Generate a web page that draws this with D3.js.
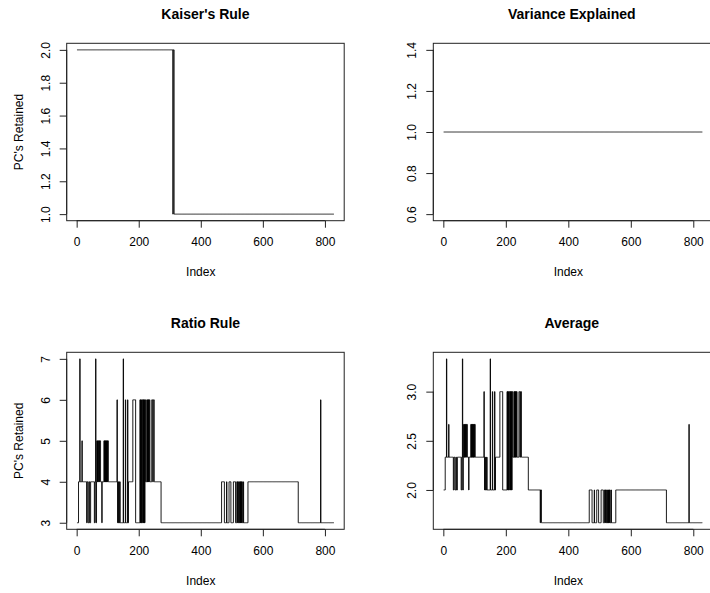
<!DOCTYPE html>
<html>
<head>
<meta charset="utf-8">
<script src="https://cdn.jsdelivr.net/npm/d3@7"></script>
<style>
  html, body { margin: 0; padding: 0; background: #fff; overflow: hidden; }
  svg { display: block; font-family: "Liberation Sans", Arial, Helvetica, sans-serif; }
</style>
</head>
<body>
<svg id="chart" width="710" height="593"></svg>
<script>
// Number of simulated data sets (x index runs 1..N)
const N = 829;

// Each series is stored as runs: [first index, value]; a value holds until the next run starts.
const kaiserRuns = [[1, 2], [310, 1], [311, 2], [314, 1]];
const varianceRuns = [[1, 1]];
const ratioRuns = [
  [1, 3], [6, 4], [10, 7], [11, 4], [17, 5], [18, 4],
  [32, 3], [34, 4], [37, 3], [40, 4], [42, 3], [45, 4],
  [57, 3], [59, 4], [61, 7], [62, 3], [64, 4],
  [65, 5], [66, 4], [67, 5], [68, 4], [69, 5], [71, 4], [72, 5], [73, 4], [74, 5], [77, 4],
  [81, 3], [82, 4],
  [88, 5], [89, 4], [90, 5], [91, 4], [92, 5], [93, 4], [94, 5], [95, 4], [96, 5], [97, 4], [98, 5], [99, 4], [100, 5], [102, 4],
  [130, 6], [131, 4], [132, 3], [133, 4], [134, 3], [136, 4], [137, 3], [139, 4], [140, 3],
  [150, 7], [151, 3], [157, 6], [158, 3], [164, 6], [165, 3], [167, 4], [181, 6], [190, 3],
  [204, 6], [205, 3], [206, 6], [207, 3], [208, 6], [209, 3], [211, 6], [213, 3],
  [214, 6], [215, 3], [216, 6], [217, 3], [218, 6], [219, 3], [220, 6], [222, 4],
  [226, 6], [227, 4], [228, 6], [229, 4], [230, 6], [231, 4], [232, 6], [233, 4], [234, 6], [236, 4],
  [242, 6], [245, 4], [247, 6], [250, 4],
  [272, 3],
  [467, 4], [476, 3], [483, 4], [484, 3], [491, 4], [497, 3], [505, 4], [512, 3],
  [516, 4], [518, 3], [519, 4], [521, 3], [523, 4], [524, 3], [526, 4], [527, 3], [528, 4], [529, 3],
  [530, 4], [531, 3], [532, 4], [534, 3], [537, 4], [538, 3],
  [552, 4], [714, 3], [786, 6], [787, 3]
];

// Axis ticks
const xTicks = [0, 200, 400, 600, 800];
const kaiserTicks = [1.0, 1.2, 1.4, 1.6, 1.8, 2.0];
const varianceTicks = [0.6, 0.8, 1.0, 1.2, 1.4];
const ratioTicks = [3, 4, 5, 6, 7];
const averageTicks = [2.0, 2.5, 3.0];

// Panel text
const titles = ["Kaiser's Rule", "Variance Explained", "Ratio Rule", "Average"];
const xLabel = "Index";
const yLabel = "PC's Retained";

// Expand runs into one value per index 1..n
function expand(runs, n) {
  const out = [];
  let r = 0;
  for (let i = 1; i <= n; i++) {
    while (r + 1 < runs.length && runs[r + 1][0] <= i) r++;
    out.push({ i: i, v: runs[r][1] });
  }
  return out;
}

const kaiser = expand(kaiserRuns, N);
const variance = expand(varianceRuns, N);
const ratio = expand(ratioRuns, N);
// The "Average" panel is the per-index mean of the three retention rules
const average = ratio.map((d, k) => ({ i: d.i, v: (kaiser[k].v + variance[k].v + d.v) / 3 }));

const panels = [
  { title: titles[0], data: kaiser,   ticks: kaiserTicks,   fmt: d3.format(".1f"), ylab: true,  left: 66.7,  top: 43.3,  w: 277.5, h: 177.4 },
  { title: titles[1], data: variance, ticks: varianceTicks, fmt: d3.format(".1f"), ylab: false, left: 433.3, top: 43.3,  w: 279.4, h: 177.4 },
  { title: titles[2], data: ratio,    ticks: ratioTicks,    fmt: d3.format("d"),   ylab: true,  left: 66.7,  top: 352.3, w: 277.5, h: 177.0 },
  { title: titles[3], data: average,  ticks: averageTicks,  fmt: d3.format(".1f"), ylab: false, left: 433.3, top: 352.3, w: 279.4, h: 177.0 }
];

const svg = d3.select("#chart");

// Base-graphics style range: a constant series first gets +/- 40% of its value,
// then the range is extended by 4% on each side.
function paddedDomain(vals) {
  let [lo, hi] = d3.extent(vals);
  if (lo === hi) { const c = lo; lo = c - 0.4 * Math.abs(c); hi = c + 0.4 * Math.abs(c); }
  const pad = 0.04 * (hi - lo);
  return [lo - pad, hi + pad];
}

panels.forEach(p => {
  const g = svg.append("g");
  const x = d3.scaleLinear().domain(paddedDomain(p.data.map(d => d.i))).range([p.left, p.left + p.w]);
  const y = d3.scaleLinear().domain(paddedDomain(p.data.map(d => d.v))).range([p.top + p.h, p.top]);

  // step line
  const line = d3.line().x(d => x(d.i)).y(d => y(d.v)).curve(d3.curveStepAfter);
  g.append("path")
    .datum(p.data)
    .attr("d", line)
    .attr("fill", "none")
    .attr("stroke", "#000")
    .attr("stroke-width", 0.9);

  // plot frame
  g.append("rect")
    .attr("x", p.left).attr("y", p.top)
    .attr("width", p.w).attr("height", p.h)
    .attr("fill", "none").attr("stroke", "#222").attr("stroke-width", 1);

  // x axis below the frame
  const xAxis = d3.axisBottom(x).tickValues(xTicks).tickSize(7).tickPadding(10).tickFormat(d3.format("d"));
  const gx = g.append("g").attr("transform", `translate(0,${p.top + p.h})`).call(xAxis);
  gx.select(".domain").attr("d", `M${x(xTicks[0])},0H${x(xTicks[xTicks.length - 1])}`).attr("stroke", "#222");
  gx.selectAll(".tick line").attr("stroke", "#222");
  gx.selectAll(".tick text").attr("font-size", 12).attr("fill", "#000").attr("font-family", null);

  // y axis left of the frame, labels parallel to the axis
  const yAxis = d3.axisLeft(y).tickValues(p.ticks).tickSize(7).tickFormat(p.fmt);
  const gy = g.append("g").attr("transform", `translate(${p.left},0)`).call(yAxis);
  gy.select(".domain").attr("d", `M0,${y(p.ticks[0])}V${y(p.ticks[p.ticks.length - 1])}`).attr("stroke", "#222");
  gy.selectAll(".tick line").attr("stroke", "#222");
  gy.selectAll(".tick text")
    .attr("font-size", 12).attr("fill", "#000").attr("font-family", null)
    .attr("x", null).attr("dy", null)
    .attr("text-anchor", "middle")
    .attr("transform", "translate(-17,0) rotate(-90)");

  // title
  g.append("text")
    .attr("x", p.left + p.w / 2 - (p.left > 300 ? 1.2 : 0))
    .attr("y", p.top - 24.3)
    .attr("text-anchor", "middle")
    .attr("font-size", 14).attr("font-weight", "bold")
    .text(p.title);

  // x label
  g.append("text")
    .attr("x", x(400))
    .attr("y", p.top + p.h + 55.5)
    .attr("text-anchor", "middle")
    .attr("font-size", 12)
    .text(xLabel);

  // y label
  if (p.ylab) {
    g.append("text")
      .attr("transform", `translate(${p.left - 44.2},${p.top + p.h / 2}) rotate(-90)`)
      .attr("text-anchor", "middle")
      .attr("font-size", 12)
      .text(yLabel);
  }
});
</script>
</body>
</html>
